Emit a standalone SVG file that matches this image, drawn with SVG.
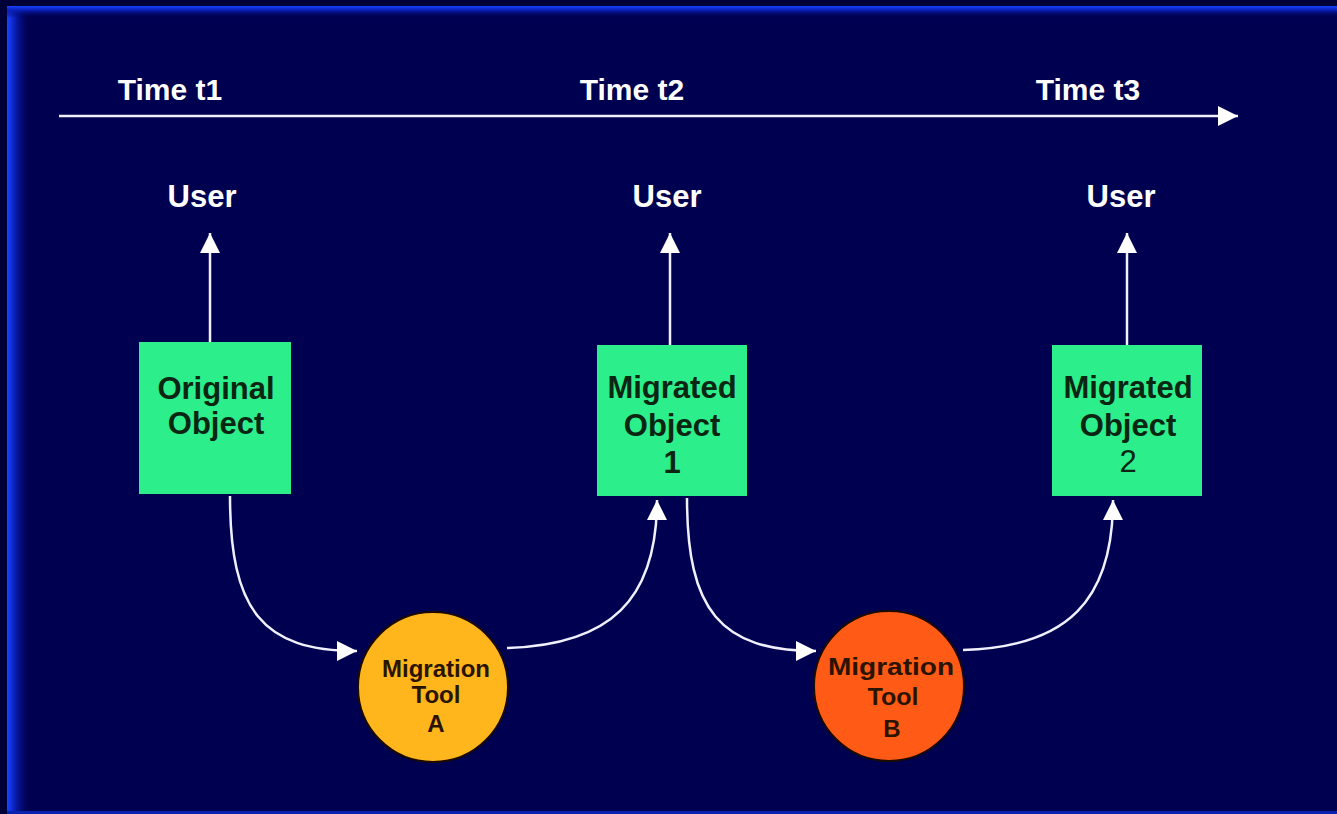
<svg xmlns="http://www.w3.org/2000/svg" width="1337" height="814" viewBox="0 0 1337 814">
<defs>
<linearGradient id="gl" x1="0" y1="0" x2="1" y2="0">
<stop offset="0" stop-color="#1a44ff"/>
<stop offset="0.3" stop-color="#0a22c0"/>
<stop offset="1" stop-color="#000050" stop-opacity="0"/>
</linearGradient>
<linearGradient id="gt" x1="0" y1="0" x2="0" y2="1">
<stop offset="0" stop-color="#1a44ff"/>
<stop offset="0.3" stop-color="#0a22c0"/>
<stop offset="1" stop-color="#000050" stop-opacity="0"/>
</linearGradient>
<marker id="ah" viewBox="0 0 20 20" refX="20" refY="10" markerWidth="22" markerHeight="20" markerUnits="userSpaceOnUse" orient="auto">
<path d="M0,0 L20,10 L0,20 Z" fill="#ffffff"/>
</marker>
<style>
.lbl{font-family:"Liberation Sans",Arial,sans-serif;font-weight:bold;fill:#ffffff;text-anchor:middle;}
.box{fill:#2cef8c;}
.bt{font-family:"Liberation Sans",Arial,sans-serif;font-weight:bold;font-size:31px;fill:#0a2612;text-anchor:middle;}
.bn{font-family:"Liberation Sans",Arial,sans-serif;font-weight:normal;font-size:31px;fill:#0a2612;text-anchor:middle;}
.ct{font-family:"Liberation Sans",Arial,sans-serif;font-weight:bold;font-size:24px;fill:#2a1400;text-anchor:middle;}
.ln{stroke:#f0f0ff;stroke-width:2.5;fill:none;}
</style>
</defs>
<rect x="0" y="0" width="1337" height="814" fill="#000038"/>
<rect x="7" y="6" width="1330" height="806" fill="#000050"/>
<rect x="7" y="6" width="24" height="806" fill="url(#gl)"/>
<rect x="7" y="6" width="1330" height="12" fill="url(#gt)"/>
<rect x="7" y="811" width="1330" height="3" fill="#0a22b0"/>

<g id="timeline">
<line x1="59" y1="116" x2="1238" y2="116" class="ln" marker-end="url(#ah)"/>
<text x="170" y="100" class="lbl" font-size="30">Time t1</text>
<text x="632" y="100" class="lbl" font-size="30">Time t2</text>
<text x="1088" y="100" class="lbl" font-size="30">Time t3</text>
</g>

<g id="users">
<text x="202" y="207" class="lbl" font-size="31">User</text>
<text x="667" y="207" class="lbl" font-size="31">User</text>
<text x="1121" y="207" class="lbl" font-size="31">User</text>
</g>

<g id="connectors">
<line x1="210" y1="342" x2="210" y2="233" class="ln" marker-end="url(#ah)"/>
<line x1="670" y1="345" x2="670" y2="233" class="ln" marker-end="url(#ah)"/>
<line x1="1127" y1="345" x2="1127" y2="233" class="ln" marker-end="url(#ah)"/>
<path d="M230,496 C230,610 262,651 357,651" class="ln" marker-end="url(#ah)"/>
<path d="M507,648 C610,645 657,600 657,500" class="ln" marker-end="url(#ah)"/>
<path d="M687,498 C687,610 720,651 816,651" class="ln" marker-end="url(#ah)"/>
<path d="M963,650 C1068,647 1113,600 1113,500" class="ln" marker-end="url(#ah)"/>
</g>

<g id="original-object">
<rect x="139" y="342" width="152" height="152" class="box"/>
<text x="216" y="399" class="bt">Original</text>
<text x="216" y="434" class="bt">Object</text>
</g>

<g id="migrated-object-1">
<rect x="597" y="345" width="150" height="151" class="box"/>
<text x="672" y="398" class="bt">Migrated</text>
<text x="672" y="436" class="bt">Object</text>
<text x="672" y="473" class="bt">1</text>
</g>

<g id="migrated-object-2">
<rect x="1052" y="345" width="150" height="151" class="box"/>
<text x="1128" y="398" class="bt">Migrated</text>
<text x="1128" y="436" class="bt">Object</text>
<text x="1128" y="472" class="bn">2</text>
</g>

<g id="migration-tool-a">
<circle cx="433" cy="687" r="75" fill="#ffb61c" stroke="#1a0a00" stroke-width="2"/>
<text x="436" y="677" class="ct">Migration</text>
<text x="436" y="703" class="ct">Tool</text>
<text x="436" y="732" class="ct">A</text>
</g>

<g id="migration-tool-b">
<circle cx="889" cy="686" r="75" fill="#ff5a16" stroke="#1a0a00" stroke-width="2"/>
<text x="891" y="675" class="ct" textLength="126" lengthAdjust="spacingAndGlyphs">Migration</text>
<text x="893" y="705" class="ct" textLength="51" lengthAdjust="spacingAndGlyphs">Tool</text>
<text x="892" y="737" class="ct">B</text>
</g>
</svg>
